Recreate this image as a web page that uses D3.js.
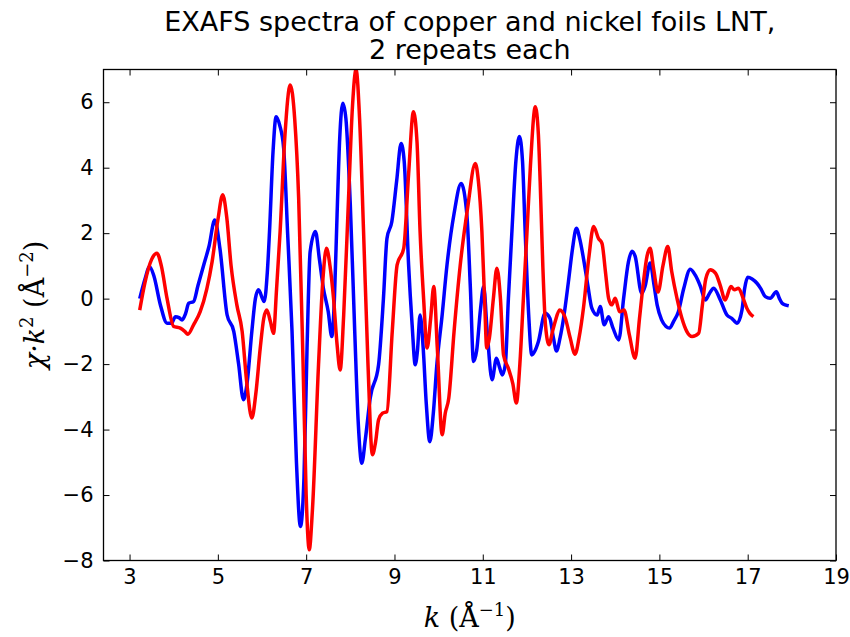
<!DOCTYPE html>
<html>
<head>
<meta charset="utf-8">
<script src="https://cdn.jsdelivr.net/npm/d3@7"></script>
<style>
  body { margin: 0; background: #fff; }
  text { font-family: "DejaVu Sans", sans-serif; fill: #000; }
  .math { font-family: "DejaVu Serif", "Liberation Serif", serif; }
</style>
</head>
<body>
<script>
var w = 850, h = 637;

// copper foil (blue), k in 1/A and chi*k^2
var cuK = [3.23, 3.35, 3.45, 3.55, 3.70, 3.85, 3.95, 4.04, 4.12, 4.19, 4.27, 4.34, 4.45, 4.55, 4.68, 4.80, 4.93, 5.05, 5.21, 5.36,
  5.47, 5.58, 5.66, 5.77, 5.85, 5.92, 6.05, 6.12, 6.17, 6.25, 6.32, 6.40, 6.49, 6.58, 6.68, 6.78, 6.87, 6.95, 7.02, 7.09,
  7.21, 7.30, 7.39, 7.50, 7.58, 7.64, 7.70, 7.76, 7.83, 7.90, 8.00, 8.10, 8.18, 8.26, 8.34, 8.45, 8.64, 8.75, 8.83, 8.94,
  9.05, 9.15, 9.22, 9.32, 9.40, 9.47, 9.52, 9.58, 9.65, 9.72, 9.80, 9.88, 9.96, 10.08, 10.19, 10.35, 10.51, 10.64, 10.72, 10.79,
  10.86, 10.95, 11.02, 11.10, 11.21, 11.31, 11.38, 11.44, 11.51, 11.58, 11.66, 11.75, 11.83, 11.90, 11.96, 12.04, 12.11, 12.18, 12.26, 12.41,
  12.52, 12.60, 12.67, 12.75, 12.83, 12.94, 13.03, 13.12, 13.20, 13.28, 13.38, 13.47, 13.59, 13.66, 13.75, 13.85, 13.95, 14.08, 14.19, 14.30,
  14.38, 14.45, 14.60, 14.68, 14.79, 14.88, 14.95, 15.05, 15.15, 15.23, 15.32, 15.43, 15.55, 15.70, 15.82, 15.93, 16.04, 16.13, 16.23, 16.38,
  16.53, 16.64, 16.76, 16.87, 16.93, 17.00, 17.10, 17.21, 17.30, 17.40, 17.51, 17.65, 17.72, 17.78, 17.85, 17.93];
var cuChi = [0.00, 0.60, 0.98, 0.70, -0.20, -0.75, -0.75, -0.55, -0.58, -0.65, -0.45, -0.14, -0.09, 0.40, 1.03, 1.60, 2.40, 1.50, -0.50, -1.00,
  -2.00, -3.09, -2.60, -1.00, 0.00, 0.27, -0.09, 0.80, 2.05, 4.50, 5.56, 5.30, 4.60, 2.00, -1.00, -5.00, -6.96, -5.50, -1.50, 1.43,
  2.05, 1.20, 0.32, -0.40, -1.16, 0.00, 2.56, 4.90, 5.97, 5.50, 2.86, -1.00, -3.80, -5.03, -4.30, -3.04, -2.02, 0.00, 1.84, 2.35,
  3.60, 4.74, 4.20, 1.03, -0.80, -2.02, -1.60, -0.50, -1.50, -3.20, -4.37, -3.50, -2.02, -0.50, 1.03, 2.60, 3.52, 2.56, 0.30, -1.92,
  -1.60, -0.30, 0.37, -1.00, -2.48, -1.82, -2.10, -2.33, -2.02, 0.00, 2.05, 4.20, 4.95, 4.20, 2.05, -0.50, -1.72, -1.60, -1.31, -0.45,
  -0.60, -1.20, -1.60, -1.20, -0.60, 0.52, 1.50, 2.15, 1.80, 1.23, 0.40, -0.29, -0.50, -0.24, -0.80, -0.55, -0.90, -1.26, 0.01, 1.13,
  1.45, 1.30, 0.16, 0.40, 1.09, 0.40, -0.20, -0.65, -0.85, -0.90, -0.70, -0.40, 0.30, 0.90, 0.70, 0.37, -0.04, 0.15, 0.32, -0.04,
  -0.50, -0.60, -0.75, -0.35, 0.30, 0.65, 0.60, 0.47, 0.30, 0.06, 0.01, 0.21, 0.00, -0.14, -0.19, -0.22];

// nickel foil (red)
var niK = [3.23, 3.35, 3.50, 3.62, 3.72, 3.85, 4.00, 4.15, 4.25, 4.32, 4.45, 4.60, 4.75, 4.87, 5.00, 5.11, 5.20, 5.30, 5.43, 5.55,
  5.65, 5.77, 5.86, 5.96, 6.04, 6.11, 6.19, 6.26, 6.33, 6.41, 6.52, 6.64, 6.74, 6.83, 6.93, 7.00, 7.07, 7.14, 7.28, 7.38,
  7.46, 7.54, 7.62, 7.70, 7.77, 7.85, 7.96, 8.05, 8.13, 8.21, 8.30, 8.40, 8.50, 8.57, 8.64, 8.73, 8.83, 8.95, 9.06, 9.21,
  9.32, 9.43, 9.51, 9.58, 9.66, 9.74, 9.82, 9.89, 9.97, 10.08, 10.15, 10.23, 10.35, 10.49, 10.66, 10.83, 10.90, 10.98, 11.04, 11.09,
  11.15, 11.24, 11.32, 11.40, 11.47, 11.58, 11.68, 11.76, 11.84, 11.92, 12.00, 12.08, 12.19, 12.26, 12.30, 12.36, 12.42, 12.50, 12.58, 12.64,
  12.74, 12.87, 12.98, 13.09, 13.18, 13.28, 13.40, 13.51, 13.62, 13.70, 13.78, 13.85, 13.92, 14.00, 14.10, 14.20, 14.32, 14.45, 14.55, 14.64,
  14.72, 14.79, 14.87, 14.97, 15.08, 15.19, 15.28, 15.40, 15.51, 15.62, 15.74, 15.89, 15.97, 16.05, 16.15, 16.27, 16.38, 16.49, 16.62, 16.70,
  16.79, 16.90, 16.98, 17.05, 17.13];
var niChi = [-0.35, 0.50, 1.20, 1.39, 1.00, 0.00, -0.85, -0.90, -1.00, -1.09, -0.80, -0.40, 0.30, 1.13, 2.40, 3.17, 2.50, 1.00, -0.19, -1.00,
  -2.50, -3.65, -2.90, -1.51, -0.60, -0.35, -0.70, -1.06, 0.30, 2.05, 5.00, 6.53, 5.50, 3.07, -2.00, -6.00, -7.67, -6.50, -2.02, 0.60,
  1.54, 1.00, 0.01, -1.40, -2.18, -0.50, 3.07, 5.90, 7.00, 5.50, 2.05, -2.00, -4.77, -4.40, -3.70, -3.50, -3.45, -1.00, 1.03, 1.54,
  3.80, 5.71, 4.80, 2.05, 0.00, -1.51, -0.60, 0.37, -1.50, -4.16, -3.50, -3.04, -1.00, 1.03, 2.80, 4.13, 3.60, 2.05, 0.00, -1.51,
  -1.20, 0.00, 0.93, 0.00, -1.72, -2.13, -2.60, -3.19, -2.00, 0.01, 2.00, 4.08, 5.86, 5.00, 3.57, 1.00, -0.80, -1.41, -1.00, -0.70,
  -0.35, -0.60, -1.20, -1.70, -1.20, -0.29, 1.23, 2.20, 1.84, 1.69, 0.80, 0.01, -0.19, 0.01, -0.40, -0.35, -1.11, -1.82, -0.60, 0.52,
  1.30, 1.54, 0.90, 0.20, 1.00, 1.59, 0.82, 0.00, -0.60, -1.00, -1.16, -1.06, -0.24, 0.60, 0.88, 0.78, 0.40, -0.04, 0.37, 0.27,
  0.32, 0.00, -0.29, -0.45, -0.55];

var xTicks = [3, 5, 7, 9, 11, 13, 15, 17, 19];
var yTicks = [-8, -6, -4, -2, 0, 2, 4, 6];

var series = [
  { name: "Cu", k: cuK, chi: cuChi, color: "#0000ff" },
  { name: "Ni", k: niK, chi: niChi, color: "#ff0000" }
];

// plot box (window.top is read-only, so keep these in an object)
var m = { l: 103.5, r: 836, t: 69.5, b: 560.5 };

var svg = d3.select("body")
  .append("svg")
  .attr("width", w)
  .attr("height", h);

var x = d3.scaleLinear()
  .domain([2.41, 19])
  .range([m.l, m.r]);

var y = d3.scaleLinear()
  .domain([-8, 7])
  .range([m.b, m.t]);

svg.append("clipPath")
  .attr("id", "plotclip")
  .append("rect")
  .attr("x", m.l)
  .attr("y", m.t)
  .attr("width", m.r - m.l)
  .attr("height", m.b - m.t);

var line = d3.line()
  .x(function(d) { return x(d[0]); })
  .y(function(d) { return y(d[1]); })
  .curve(d3.curveMonotoneX);

svg.append("g")
  .attr("clip-path", "url(#plotclip)")
  .selectAll(".spec")
  .data(series)
  .enter()
  .append("path")
  .attr("class", "spec")
  .attr("d", function(s) {
    return line(s.k.map(function(k, i) { return [k, s.chi[i]]; }));
  })
  .style("fill", "none")
  .style("stroke", function(s) { return s.color; })
  .style("stroke-width", 3.5)
  .style("stroke-linejoin", "round")
  .style("stroke-linecap", "butt");

// ticks point inward on all four sides (matplotlib classic)
var tickLen = 6;
var fmt = function(d) { return d < 0 ? "\u2212" + Math.abs(d) : String(d); };

svg.append("g")
  .attr("transform", "translate(0," + m.b + ")")
  .call(d3.axisBottom(x).tickValues(xTicks).tickSize(-tickLen).tickPadding(9).tickFormat(fmt))
  .call(function(g) { g.select(".domain").remove(); });

svg.append("g")
  .attr("transform", "translate(0," + m.t + ")")
  .call(d3.axisTop(x).tickValues(xTicks).tickSize(-tickLen).tickFormat(""))
  .call(function(g) { g.select(".domain").remove(); });

svg.append("g")
  .attr("transform", "translate(" + m.l + ",0)")
  .call(d3.axisLeft(y).tickValues(yTicks).tickSize(-tickLen).tickPadding(10).tickFormat(fmt))
  .call(function(g) { g.select(".domain").remove(); });

svg.append("g")
  .attr("transform", "translate(" + m.r + ",0)")
  .call(d3.axisRight(y).tickValues(yTicks).tickSize(-tickLen).tickFormat(""))
  .call(function(g) { g.select(".domain").remove(); });

svg.selectAll(".tick line").style("stroke", "#000").style("stroke-width", 1);
svg.selectAll(".tick text")
  .style("font-family", "'DejaVu Sans', sans-serif")
  .style("font-size", "21px");

svg.append("rect")
  .attr("x", m.l)
  .attr("y", m.t)
  .attr("width", m.r - m.l)
  .attr("height", m.b - m.t)
  .style("fill", "none")
  .style("stroke", "#000")
  .style("stroke-width", 1.3);

// title
var title = svg.append("text")
  .attr("text-anchor", "middle")
  .style("font-size", "27px");
title.append("tspan").attr("x", (m.l + m.r) / 2).attr("y", 31)
  .text("EXAFS spectra of copper and nickel foils LNT,");
title.append("tspan").attr("x", (m.l + m.r) / 2).attr("y", 59)
  .text("2 repeats each");

// x label: k (Å^-1)
var xl = svg.append("text")
  .attr("class", "math")
  .attr("text-anchor", "middle")
  .attr("x", (m.l + m.r) / 2)
  .attr("y", 627)
  .style("font-size", "27px");
xl.append("tspan").style("font-style", "italic").text("k");
xl.append("tspan").text(" (\u00c5");
xl.append("tspan").attr("dy", -11).style("font-size", "18px").text("\u22121");
xl.append("tspan").attr("dy", 11).text(")");

// y label: chi·k^2 (Å^-2)
var yl = svg.append("text")
  .attr("class", "math")
  .attr("text-anchor", "middle")
  .attr("transform", "translate(44,305) rotate(-90)")
  .style("font-size", "27px");
yl.append("tspan").style("font-style", "italic").text("\u03c7\u00b7k");
yl.append("tspan").attr("dy", -11).style("font-size", "18px").text("2");
yl.append("tspan").attr("dy", 11).text("  (\u00c5");
yl.append("tspan").attr("dy", -11).style("font-size", "18px").text("\u22122");
yl.append("tspan").attr("dy", 11).text(")");
</script>
</body>
</html>
